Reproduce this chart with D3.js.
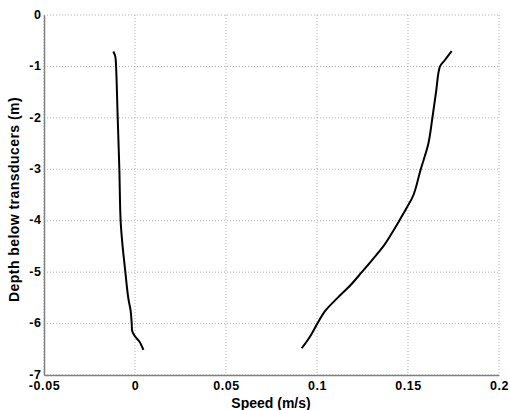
<!DOCTYPE html>
<html><head><meta charset="utf-8">
<script src="https://cdn.jsdelivr.net/npm/d3@7"></script>
<style>body{margin:0;background:#fff}svg{display:block}text{font-family:"Liberation Sans",Arial,sans-serif;font-weight:bold}</style>
</head><body>
<svg id="c" width="510" height="410"></svg>
<script>
const xTicks = [-0.05, 0, 0.05, 0.1, 0.15, 0.2];
const yTicks = [0, -1, -2, -3, -4, -5, -6, -7];
const leftDepth = [-0.71, -0.81, -1, -2, -3, -4, -4.5, -4.8, -5, -5.5, -5.75, -6, -6.15, -6.25, -6.35, -6.51];
const leftSpeed = [-0.0119, -0.0108, -0.0104, -0.0095, -0.0086, -0.0079, -0.0068, -0.0059, -0.0053, -0.0037, -0.0024, -0.0018, -0.0015, 0.0, 0.0024, 0.0046];
const rightDepth = [-0.70, -0.875, -1, -1.5, -2, -2.5, -3, -3.5, -3.75, -4, -4.25, -4.5, -4.75, -5, -5.25, -5.5, -5.75, -6, -6.25, -6.48];
const rightSpeed = [0.174, 0.1703, 0.1676, 0.1654, 0.1634, 0.1612, 0.157, 0.153, 0.1493, 0.1452, 0.141, 0.1364, 0.1306, 0.1246, 0.1185, 0.1113, 0.1046, 0.1002, 0.0962, 0.0916];

const svg = d3.select("#c");
const x = d3.scaleLinear().domain([-0.05, 0.2]).range([44, 499]);
const y = d3.scaleLinear().domain([-7, 0]).range([375, 15]);

const g = svg.append("g");
// grid
g.selectAll(".gx").data(xTicks).join("line")
  .attr("x1", d => x(d)).attr("x2", d => x(d)).attr("y1", y(0)).attr("y2", y(-7))
  .attr("stroke", "#b0b0b0").attr("stroke-dasharray", "1,2").attr("stroke-width", 1);
g.selectAll(".gy").data(yTicks).join("line")
  .attr("y1", d => y(d)).attr("y2", d => y(d)).attr("x1", x(-0.05)).attr("x2", x(0.2))
  .attr("stroke", "#b0b0b0").attr("stroke-dasharray", "1,2").attr("stroke-width", 1);

// axes
const xa = svg.append("g").attr("transform", `translate(0,${y(-7)})`)
  .call(d3.axisBottom(x).tickValues(xTicks).tickSize(0).tickPadding(6).tickFormat(d => String(d)));
const ya = svg.append("g").attr("transform", `translate(${x(-0.05)},0)`)
  .call(d3.axisLeft(y).tickValues(yTicks).tickSize(0).tickPadding(2.5).tickFormat(d => String(d)));
[xa, ya].forEach(a => {
  a.select(".domain").attr("stroke", "#808080").attr("stroke-width", 1.5);
  a.selectAll("text").attr("fill", "#000").style("font-size", "12.5px").style("font-weight", "bold")
   .style("letter-spacing", "0.6px")
   .style("font-family", '"Liberation Sans", Arial, sans-serif');
});
ya.selectAll("text").attr("dy", "0.26em");

// lines
const line = d3.line().x(d => x(d[0])).y(d => y(d[1])).curve(d3.curveCatmullRom);
svg.append("path").datum(leftSpeed.map((s, i) => [s, leftDepth[i]]))
  .attr("d", line).attr("fill", "none").attr("stroke", "#000").attr("stroke-width", 2);
svg.append("path").datum(rightSpeed.map((s, i) => [s, rightDepth[i]]))
  .attr("d", line).attr("fill", "none").attr("stroke", "#000").attr("stroke-width", 2);

// labels
svg.append("text").attr("x", 271).attr("y", 407.5).attr("text-anchor", "middle")
  .style("font-size", "14px").text("Speed (m/s)");
svg.append("text").attr("transform", `translate(19,199.5) rotate(-90)`).attr("text-anchor", "middle")
  .style("font-size", "14px").style("letter-spacing", "0.45px").text("Depth below transducers (m)");
</script>
</body></html>
